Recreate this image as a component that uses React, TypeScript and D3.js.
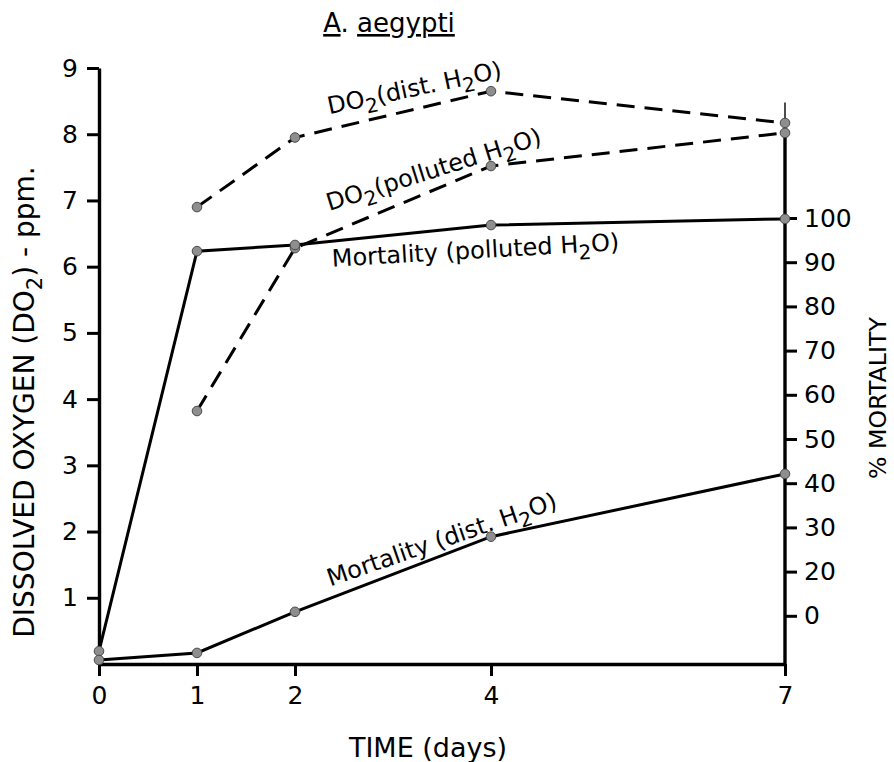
import { useEffect, useRef } from 'react';
import * as d3 from 'd3';

const W = 894;
const H = 762;

// time axis
const dayTicks = [0, 1, 2, 4, 7];
const doTicks = [1, 2, 3, 4, 5, 6, 7, 8, 9];
// right axis as printed (the last label sits one step above the baseline)
const mortTickValues = [100, 90, 80, 70, 60, 50, 40, 30, 20, 10];
const mortTickLabels = ['100', '90', '80', '70', '60', '50', '40', '30', '20', '0'];

// dissolved oxygen, ppm (measured from day 1)
const do2Days = [1, 2, 4, 7];
const do2Dist = [6.9, 7.95, 8.65, 8.17];
const do2Polluted = [3.82, 6.28, 7.52, 8.02];

// % mortality
const mortDays = [0, 1, 2, 4, 7];
const mortPolluted = [2, 92.5, 93.9, 98.4, 99.8];
const mortDist = [0, 1.6, 10.9, 27.9, 42.1];

const FONT = '"DejaVu Sans", sans-serif';

type Pt = { x: number; y: number };

export default function App() {
  const svgRef = useRef<SVGSVGElement>(null);

  useEffect(() => {
    if (!svgRef.current) return;
    const svg = d3.select(svgRef.current);
    svg.selectAll('*').remove();

    const x = d3.scaleLinear().domain([0, 7]).range([99, 785]);
    const yDO = d3.scaleLinear().domain([0, 9]).range([664, 68]);
    const yMort = d3.scaleLinear().domain([0, 100]).range([660, 218]);

    const styleAxis = (g: d3.Selection<SVGGElement, unknown, null, undefined>) => {
      g.selectAll('.tick line').attr('stroke', '#000').attr('stroke-width', 3);
      g.selectAll('.tick text')
        .attr('fill', '#000')
        .style('font-family', FONT)
        .style('font-size', '25px');
      g.select('.domain').attr('stroke', '#000').attr('stroke-width', 3.4);
    };

    // left axis
    svg.append('g')
      .attr('transform', `translate(${x(0)},0)`)
      .call(d3.axisLeft(yDO).tickValues(doTicks).tickFormat(d3.format('d')).tickSize(12).tickSizeOuter(0).tickPadding(9))
      .call(styleAxis);

    // bottom axis
    svg.append('g')
      .attr('transform', `translate(0,${yDO(0)})`)
      .call(d3.axisBottom(x).tickValues(dayTicks).tickFormat(d3.format('d')).tickSize(12).tickSizeOuter(0).tickPadding(10))
      .call(styleAxis);

    // right axis
    const right = svg.append('g')
      .attr('transform', `translate(${x(7)},0)`)
      .call(d3.axisRight(yMort).tickValues(mortTickValues)
        .tickFormat((_d, i) => mortTickLabels[i]).tickSize(12).tickPadding(7))
      .call(styleAxis);
    right.select('.domain').remove();
    svg.append('line')
      .attr('x1', x(7)).attr('x2', x(7))
      .attr('y1', yDO(8.1)).attr('y2', yDO(0))
      .attr('stroke', '#000').attr('stroke-width', 3.4);
    svg.append('line')
      .attr('x1', x(7)).attr('x2', x(7))
      .attr('y1', yDO(8.48)).attr('y2', yDO(8.1))
      .attr('stroke', '#000').attr('stroke-width', 1.4);

    const line = d3.line<Pt>().x(d => d.x).y(d => d.y);

    const series = [
      { pts: do2Days.map((d, i) => ({ x: x(d), y: yDO(do2Dist[i]) })), dash: '18,10' },
      { pts: do2Days.map((d, i) => ({ x: x(d), y: yDO(do2Polluted[i]) })), dash: '18,10' },
      { pts: mortDays.map((d, i) => ({ x: x(d), y: yMort(mortPolluted[i]) })), dash: null },
      { pts: mortDays.map((d, i) => ({ x: x(d), y: yMort(mortDist[i]) })), dash: null },
    ];

    series.forEach(s => {
      svg.append('path')
        .datum(s.pts)
        .attr('fill', 'none')
        .attr('stroke', '#000')
        .attr('stroke-width', 3)
        .attr('stroke-dasharray', s.dash)
        .attr('d', line);
    });

    series.forEach(s => {
      svg.append('g')
        .selectAll('circle')
        .data(s.pts.filter(p => p.y < yDO(0) - 1))
        .join('circle')
        .attr('cx', d => d.x)
        .attr('cy', d => d.y)
        .attr('r', 4.8)
        .attr('fill', '#8e8e8e')
        .attr('stroke', '#4a4a4a')
        .attr('stroke-width', 1);
    });

    // curve labels
    const labels = [
      { parts: [['DO', 0], ['2', 1], ['(dist. H', 0], ['2', 1], ['O)', 0]], at: [2.35, 8.3], rot: -12 },
      { parts: [['DO', 0], ['2', 1], ['(polluted H', 0], ['2', 1], ['O)', 0]], at: [2.35, 6.84], rot: -17.5 },
      { parts: [['Mortality (polluted H', 0], ['2', 1], ['O)', 0]], at: [2.38, 6.0], rot: -3.3 },
      { parts: [['Mortality (dist. H', 0], ['2', 1], ['O)', 0]], at: [2.36, 1.17], rot: -19 },
    ] as const;

    labels.forEach(l => {
      const t = svg.append('text')
        .attr('transform', `translate(${x(l.at[0])},${yDO(l.at[1])}) rotate(${l.rot})`)
        .style('font-family', FONT)
        .style('font-size', '24px')
        .attr('fill', '#000');
      let shifted = false;
      l.parts.forEach(([s, sub]) => {
        const ts = t.append('tspan').text(s);
        if (sub && !shifted) { ts.attr('dy', 7).style('font-size', '20px'); shifted = true; }
        else if (!sub && shifted) { ts.attr('dy', -7); shifted = false; }
      });
    });

    // title
    const title = svg.append('text')
      .attr('x', 389).attr('y', 32)
      .attr('text-anchor', 'middle')
      .style('font-family', FONT)
      .style('font-size', '26px')
      .attr('fill', '#000');
    title.append('tspan').text('A').style('text-decoration', 'underline');
    title.append('tspan').text('. ');
    title.append('tspan').text('aegypti').style('text-decoration', 'underline');

    // axis titles
    const yTitle = svg.append('text')
      .attr('transform', `translate(34,402) rotate(-90)`)
      .attr('text-anchor', 'middle')
      .style('font-family', FONT)
      .style('font-size', '28px')
      .attr('fill', '#000');
    yTitle.append('tspan').text('DISSOLVED OXYGEN (DO');
    yTitle.append('tspan').text('2').attr('dy', 8).style('font-size', '21px');
    yTitle.append('tspan').text(') - ppm.').attr('dy', -8);

    svg.append('text')
      .attr('transform', `translate(886,398) rotate(-90)`)
      .attr('text-anchor', 'middle')
      .attr('textLength', 162)
      .attr('lengthAdjust', 'spacingAndGlyphs')
      .style('font-family', FONT)
      .style('font-size', '23px')
      .attr('fill', '#000')
      .text('% MORTALITY');

    svg.append('text')
      .attr('x', 428).attr('y', 757)
      .attr('text-anchor', 'middle')
      .style('font-family', FONT)
      .style('font-size', '27px')
      .attr('fill', '#000')
      .text('TIME (days)');
  }, []);

  return (
    <div style={{ position: 'absolute', left: 0, top: 0, background: '#fff' }}>
      <svg ref={svgRef} width={W} height={H} />
    </div>
  );
}
